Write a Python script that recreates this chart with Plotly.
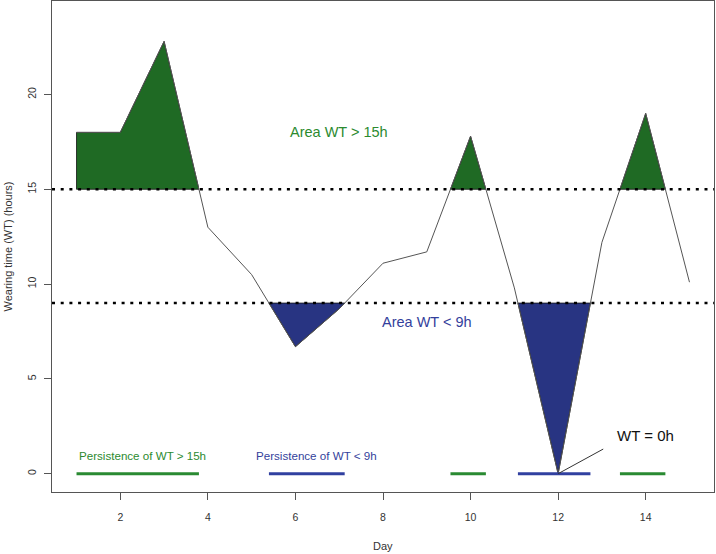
import plotly.graph_objects as go

# ---- data ----
days = [1, 2, 3, 4, 5, 6, 7, 8, 9, 10, 11, 12, 13, 14, 15]
wear_time = [18.0, 18.0, 22.8, 13.0, 10.5, 6.7, 8.7, 11.1, 11.7, 17.8, 9.8, 0.0, 12.2, 19.0, 10.1]
thr_high = 15
thr_low = 9
x_ticks = [2, 4, 6, 8, 10, 12, 14]
y_ticks = [0, 5, 10, 15, 20]

label_high_area = ("Area WT > 15h", 7.0, 18.0)
label_low_area = ("Area WT < 9h", 9.0, 8.0)
label_high_pers = ("Persistence of WT > 15h", 1.0, 0.95)
label_low_pers = ("Persistence of WT < 9h", 5.05, 0.95)
label_zero = ("WT = 0h", 14.0, 2.0)
zero_pointer_x = [12, 13.03]
zero_pointer_y = [0, 1.3]

GREEN_FILL = "#1f6a24"
BLUE_FILL = "#283482"
GREEN_TXT = "#2c8a2f"
BLUE_TXT = "#343f9c"
GREEN_LINE = "#2a8a32"
BLUE_LINE = "#3140a0"
FONT = "Arial, Liberation Sans, sans-serif"


def regions(xs, ys, thr, above):
    out = []
    cur = None
    for i in range(len(xs)):
        x, y = xs[i], ys[i]
        inside = (y > thr) if above else (y < thr)
        if i > 0:
            x0, y0 = xs[i - 1], ys[i - 1]
            prev = (y0 > thr) if above else (y0 < thr)
            if inside != prev:
                xc = x0 + (thr - y0) * (x - x0) / (y - y0)
                if inside:
                    cur = [(xc, thr)]
                else:
                    cur.append((xc, thr))
                    out.append(cur)
                    cur = None
        if inside:
            if cur is None:
                cur = [(x, thr)]
            cur.append((x, y))
    if cur is not None:
        cur.append((xs[-1], thr))
        out.append(cur)
    return out


fig = go.Figure()

high = regions(days, wear_time, thr_high, True)
low = regions(days, wear_time, thr_low, False)

for polys, fill in ((high, GREEN_FILL), (low, BLUE_FILL)):
    for p in polys:
        px = [q[0] for q in p] + [p[0][0]]
        py = [q[1] for q in p] + [p[0][1]]
        fig.add_trace(go.Scatter(x=px, y=py, mode="lines", fill="toself",
                                 fillcolor=fill, line=dict(color="#111", width=0.8),
                                 hoverinfo="skip", showlegend=False))

fig.add_trace(go.Scatter(x=days, y=wear_time, mode="lines",
                         line=dict(color="#555", width=1), showlegend=False))

# persistence bars at y = 0
for polys, col in ((high, GREEN_LINE), (low, BLUE_LINE)):
    for p in polys:
        fig.add_trace(go.Scatter(x=[p[0][0], p[-1][0]], y=[0, 0], mode="lines",
                                 line=dict(color=col, width=3), showlegend=False))

fig.add_trace(go.Scatter(x=zero_pointer_x, y=zero_pointer_y, mode="lines",
                         line=dict(color="#333", width=1), showlegend=False))

for thr in (thr_high, thr_low):
    fig.add_hline(y=thr, line=dict(color="black", width=2.6, dash="3px,5.7px"))

def ann(lbl, color, size, anchor="center"):
    fig.add_annotation(text=lbl[0], x=lbl[1], y=lbl[2], xref="x", yref="y",
                       showarrow=False, xanchor=anchor, yanchor="middle",
                       font=dict(family=FONT, size=size, color=color))

ann(label_high_area, GREEN_TXT, 14.5)
ann(label_low_area, BLUE_TXT, 14.5)
ann(label_high_pers, GREEN_TXT, 11.6, "left")
ann(label_low_pers, BLUE_TXT, 11.6, "left")
ann(label_zero, "#111", 15)

# axis titles
fig.add_annotation(text="Day", xref="paper", yref="paper", x=0.5, y=0,
                   xanchor="center", yanchor="middle", yshift=-54, showarrow=False,
                   font=dict(family=FONT, size=11, color="#333"))
fig.add_annotation(text="Wearing time (WT) (hours)", xref="paper", yref="paper",
                   x=0, y=0.5, xanchor="center", yanchor="middle", xshift=-45,
                   textangle=-90, showarrow=False,
                   font=dict(family=FONT, size=11, color="#333"))

axis_common = dict(showgrid=False, zeroline=False, showline=True, mirror=True,
                   linecolor="#555", linewidth=1, ticks="outside", ticklen=7,
                   tickcolor="#555", tickfont=dict(family=FONT, size=10.5, color="#333"))

fig.update_xaxes(range=[0.44, 15.56], tickvals=x_ticks, ticklabelstandoff=8, **axis_common)
fig.update_yaxes(range=[-0.965, 24.93], tickvals=y_ticks, tickangle=-90,
                 ticklabelstandoff=4, **axis_common)

fig.update_layout(width=716, height=554, margin=dict(l=52, r=2, t=1, b=62),
                  plot_bgcolor="white", paper_bgcolor="white", showlegend=False)

fig.write_html("out.html", config={"displayModeBar": False},
               post_script="document.body.style.margin='0';document.body.style.overflow='hidden';")
